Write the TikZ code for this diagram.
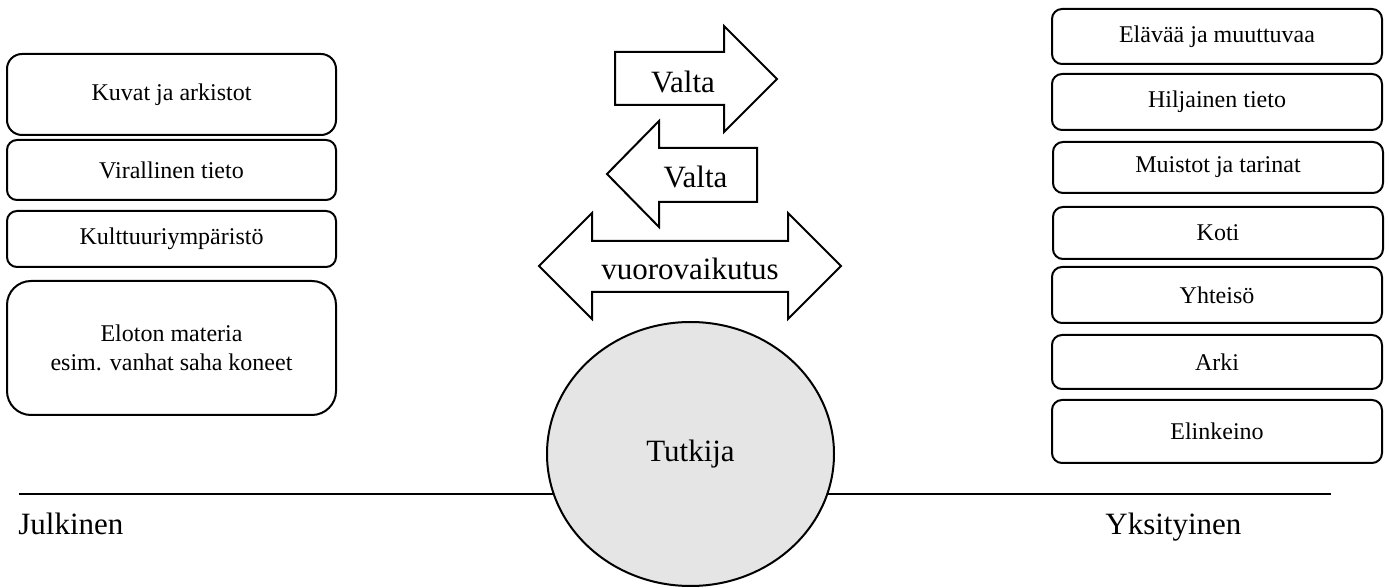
\documentclass[tikz,border=0pt]{standalone}
\usepackage{fontspec}
\setmainfont{Liberation Serif}
\usepackage{xcolor}
\definecolor{tutkijagray}{RGB}{229,229,229}
\usepackage{tikz}
\usetikzlibrary{shapes.geometric}
\newcommand{\widthleft}{164.5pt}
\newcommand{\widthright}{165pt}
\newcommand{\smalltext}{\fontsize{12}{14.4}\selectfont}
\newcommand{\bigtext}{\fontsize{15.5}{18.6}\selectfont}
\tikzset{
    common/.style={draw, rectangle, line width=1pt, align=center, font=\smalltext},
    leftbox/.style={common, minimum width=\widthleft, rounded corners=5pt},
    rightbox/.style={common, minimum width=\widthright, rounded corners=5pt},
    bigarrow/.style={draw, line width=1pt, line join=miter, fill=white},
    label/.style={inner sep=0pt, anchor=base, font=\bigtext},
    side/.style={label, anchor=base west},
    person/.style={draw, ellipse, line width=1pt, fill=tutkijagray, font=\bigtext,
        minimum width=143.5pt, minimum height=132pt},
    axis/.style={line width=0.6pt}
}
\begin{document}
\begin{tikzpicture}[x=0.5pt, y=-0.5pt]
    \useasboundingbox (0,0) rectangle (1389,588);

    % julkinen puoli
    \node[leftbox, minimum height=40.5pt, rounded corners=7.5pt] (kuvat) at (171.5,94.5) {Kuvat ja arkistot};
    \node[leftbox, minimum height=30pt] (virallinen) at (171.5,170) {Virallinen tieto};
    \node[leftbox, minimum height=28pt] (kulttuuri) at (171.5,239) {Kulttuuriympäristö};
    \node[leftbox, minimum height=67pt, rounded corners=12pt] (eloton) at (171.5,348)
        {Eloton materia\\esim. vanhat saha koneet};

    % yksityinen puoli
    \node[rightbox, minimum height=27.5pt] (elava) at (1217,36.5) {Elävää ja muuttuvaa};
    \node[rightbox, minimum height=28pt] (hiljainen) at (1217,102) {Hiljainen tieto};
    \node[rightbox, minimum height=25.5pt] (muistot) at (1218,167.5) {Muistot ja tarinat};
    \node[rightbox, minimum height=26pt] (koti) at (1218,233) {Koti};
    \node[rightbox, minimum height=28pt] (yhteiso) at (1217,295) {Yhteisö};
    \node[rightbox, minimum height=27pt] (arki) at (1217,362) {Arki};
    \node[rightbox, minimum height=31.5pt] (elinkeino) at (1217,431.5) {Elinkeino};

    % nuolet
    \draw[bigarrow] (615,52) -- (724,52) -- (724,26) -- (777,79) -- (724,132)
        -- (724,105) -- (615,105) -- cycle;
    \node[label] (valtaR) at (683,93) {Valta};
    \draw[bigarrow] (607,174) -- (659,121) -- (659,148) -- (757,148) -- (757,202)
        -- (659,202) -- (659,227) -- cycle;
    \node[label] (valtaL) at (695.5,188) {Valta};
    \draw[bigarrow] (539,266) -- (592,213) -- (592,241) -- (788,241) -- (788,213)
        -- (841,266) -- (788,319) -- (788,292) -- (592,292) -- (592,319) -- cycle;
    \node[label] (vuoro) at (690,280) {vuorovaikutus};

    % raja
    \coordinate (rajaW) at (19,494);
    \coordinate (rajaE) at (1331,494);
    \draw[axis] (rajaW) -- (rajaE);

    \node[person] (tutkija) at (690.5,454) {Tutkija};

    \node[side] (julkinen) at (18,535) {Julkinen};
    \node[side] (yksityinen) at (1105,535) {Yksityinen};
\end{tikzpicture}
\end{document}
